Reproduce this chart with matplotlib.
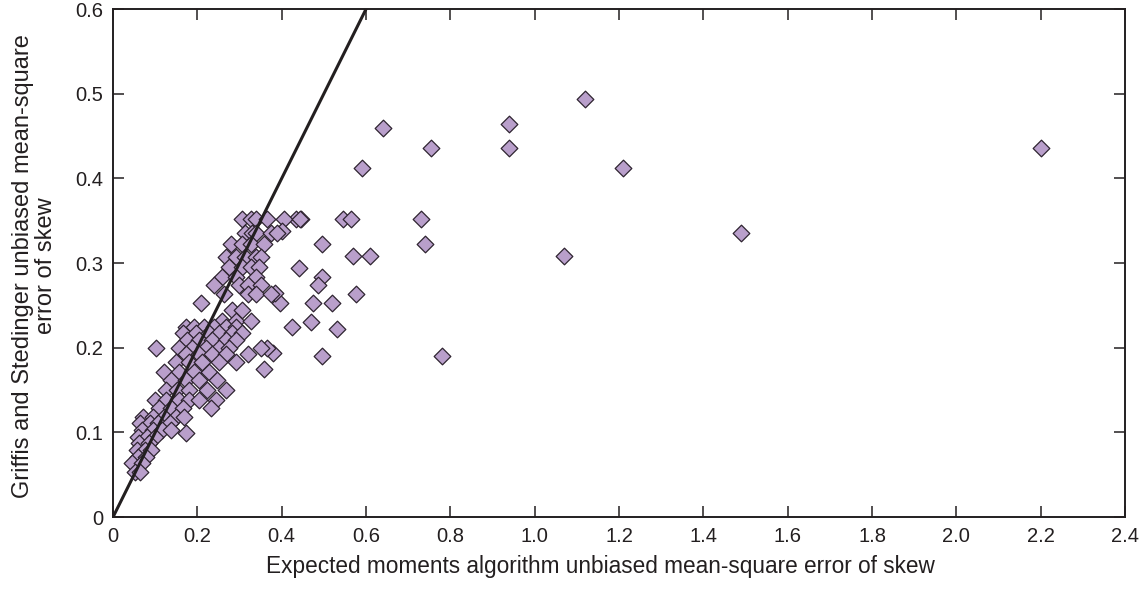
import matplotlib
matplotlib.use("Agg")
import matplotlib.pyplot as plt

plt.rcParams['font.family'] = ['Liberation Sans', 'DejaVu Sans']

# EMA unbiased MSE of skew (x) vs Griffis-Stedinger unbiased MSE (y)
ema_mse = [
    2.20, 1.49, 1.12, 1.21, 1.07, 0.94, 0.94, 0.753, 0.78, 0.74, 0.73, 0.64, 0.59, 0.61,
    0.57, 0.575, 0.545, 0.565, 0.53, 0.52, 0.495, 0.495, 0.485, 0.475, 0.47, 0.495, 0.445, 0.435,
    0.44, 0.425, 0.405, 0.40, 0.395, 0.385, 0.38, 0.364, 0.358,
    0.305, 0.326, 0.338, 0.364, 0.443,
    0.314, 0.33, 0.34, 0.375, 0.39,
    0.28, 0.305, 0.326, 0.357,
    0.267, 0.291, 0.314, 0.338, 0.352,
    0.274, 0.305, 0.328, 0.345,
    0.258, 0.291, 0.338,
    0.239, 0.298, 0.321, 0.352,
    0.263, 0.321, 0.338, 0.375,
    0.209,
    0.282, 0.305,
    0.258, 0.291, 0.326,
    0.173, 0.192, 0.216, 0.239, 0.267, 0.291,
    0.165, 0.197, 0.228, 0.251, 0.282, 0.305,
    0.176, 0.203, 0.235, 0.267, 0.291,
    0.103, 0.157, 0.188, 0.22, 0.251, 0.274, 0.352,
    0.173, 0.204, 0.235, 0.267, 0.321,
    0.15, 0.181, 0.211, 0.251, 0.291,
    0.122, 0.157, 0.192, 0.228,
    0.138, 0.173, 0.204, 0.246,
    0.126, 0.152, 0.181, 0.223, 0.267,
    0.099, 0.126, 0.157, 0.181, 0.204, 0.244,
    0.11, 0.138, 0.165, 0.232,
    0.070, 0.094, 0.122, 0.15, 0.169,
    0.063, 0.087, 0.106, 0.134,
    0.068, 0.094, 0.115, 0.138, 0.173,
    0.059, 0.080, 0.099,
    0.061, 0.085,
    0.056, 0.075, 0.091,
    0.059, 0.078,
    0.044, 0.068,
    0.052, 0.063,
]
gs_mse = [
    0.436, 0.336, 0.494, 0.412, 0.308, 0.464, 0.436, 0.436, 0.190, 0.322, 0.352, 0.460, 0.412, 0.308,
    0.308, 0.264, 0.352, 0.352, 0.222, 0.253, 0.322, 0.284, 0.274, 0.253, 0.230, 0.190, 0.352, 0.352,
    0.294, 0.224, 0.352, 0.338, 0.253, 0.265, 0.194, 0.200, 0.175,
    0.352, 0.352, 0.352, 0.352, 0.352,
    0.336, 0.336, 0.336, 0.336, 0.336,
    0.323, 0.323, 0.323, 0.323,
    0.307, 0.307, 0.307, 0.307, 0.307,
    0.295, 0.295, 0.295, 0.295,
    0.283, 0.283, 0.283,
    0.274, 0.274, 0.274, 0.274,
    0.264, 0.264, 0.264, 0.264,
    0.253,
    0.244, 0.244,
    0.232, 0.232, 0.232,
    0.224, 0.224, 0.224, 0.224, 0.224, 0.224,
    0.217, 0.217, 0.217, 0.217, 0.217, 0.217,
    0.209, 0.209, 0.209, 0.209, 0.209,
    0.200, 0.200, 0.200, 0.200, 0.200, 0.200, 0.200,
    0.193, 0.193, 0.193, 0.193, 0.193,
    0.183, 0.183, 0.183, 0.183, 0.183,
    0.171, 0.171, 0.171, 0.171,
    0.162, 0.162, 0.162, 0.162,
    0.150, 0.150, 0.150, 0.150, 0.150,
    0.138, 0.138, 0.138, 0.138, 0.138, 0.138,
    0.129, 0.129, 0.129, 0.129,
    0.118, 0.118, 0.118, 0.118, 0.118,
    0.111, 0.111, 0.111, 0.111,
    0.103, 0.103, 0.103, 0.103, 0.099,
    0.094, 0.094, 0.094,
    0.087, 0.087,
    0.079, 0.079, 0.079,
    0.071, 0.071,
    0.064, 0.064,
    0.053, 0.053,
]

# 1:1 line
line_x = [0, 0.6]
line_y = [0, 0.6]

xticks = [0, 0.2, 0.4, 0.6, 0.8, 1.0, 1.2, 1.4, 1.6, 1.8, 2.0, 2.2, 2.4]
xtick_labels = ['0', '0.2', '0.4', '0.6', '0.8', '1.0', '1.2', '1.4', '1.6', '1.8', '2.0', '2.2', '2.4']
yticks = [0, 0.1, 0.2, 0.3, 0.4, 0.5, 0.6]
ytick_labels = ['0', '0.1', '0.2', '0.3', '0.4', '0.5', '0.6']

fig = plt.figure(figsize=(11.43, 5.94), dpi=100)
ax = fig.add_axes([0.0989, 0.1296, 0.8854, 0.8552])

ax.scatter(ema_mse, gs_mse, marker='D', s=72, facecolor='#b99fcb',
           edgecolor='#2e2430', linewidth=0.9, zorder=2)
ax.plot(line_x, line_y, color='#231f20', linewidth=2.2, zorder=3)

ax.set_xlim(0, 2.4)
ax.set_ylim(0, 0.6)
ax.set_xticks(xticks)
ax.set_xticklabels(xtick_labels)
ax.set_yticks(yticks)
ax.set_yticklabels(ytick_labels)
ax.tick_params(direction='in', length=8, width=1.1, labelsize=14.5, colors='#231f20',
               top=True, right=True)
ax.tick_params(axis='x', pad=7)
ax.tick_params(axis='y', pad=7)
for s in ax.spines.values():
    s.set_linewidth(1.4)
    s.set_color('#231f20')

ax.set_xlabel('Expected moments algorithm unbiased mean-square error of skew',
              fontsize=16.3, color='#231f20')
ax.xaxis.set_label_coords(0.482, -0.075)
ax.set_ylabel('Griffis and Stedinger unbiased mean-square\nerror of skew',
              fontsize=17, color='#231f20', linespacing=1.1)
ax.yaxis.set_label_coords(-0.055, 0.494)

fig.savefig('out.png', dpi=100)
